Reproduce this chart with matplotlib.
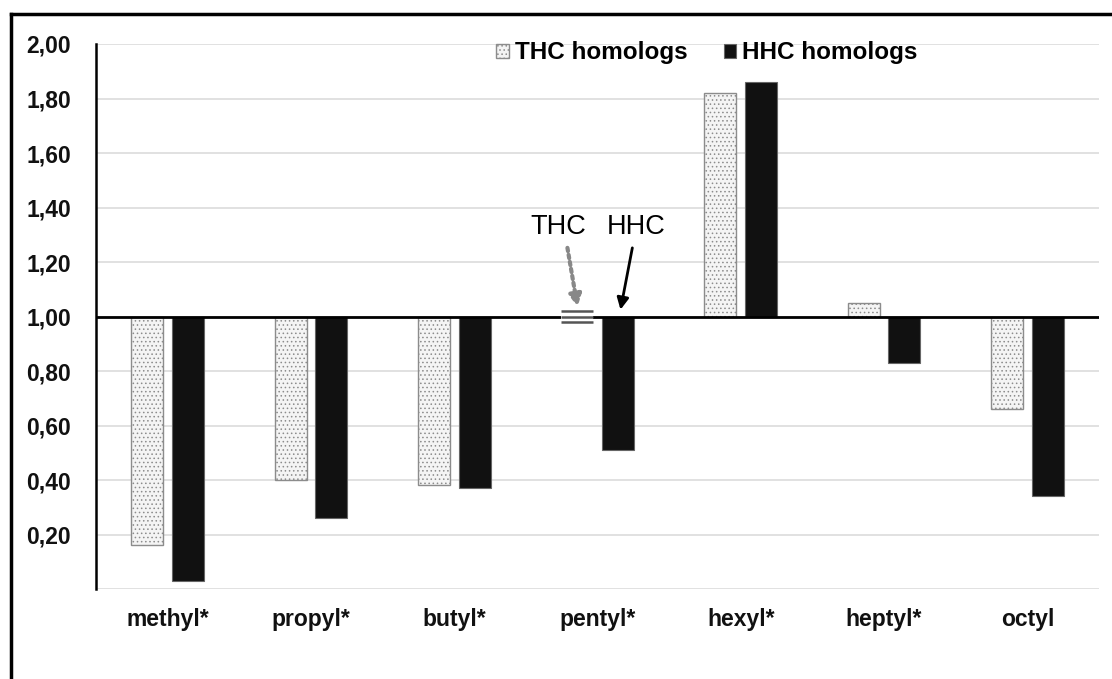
import numpy as np
import matplotlib
matplotlib.use("Agg")
import matplotlib.pyplot as plt
from matplotlib.patches import Patch, Rectangle
from matplotlib.lines import Line2D

# ── Data ───────────────────────────────────────────────────────────────────
homologs = ["methyl*", "propyl*", "butyl*", "pentyl*", "hexyl*", "heptyl*", "octyl"]
thc_vals = [0.16, 0.40, 0.38, 1.00, 1.82, 1.05, 0.66]
hhc_vals = [0.03, 0.26, 0.37, 0.51, 1.86, 0.83, 0.34]
yticks = [0.0, 0.2, 0.4, 0.6, 0.8, 1.0, 1.2, 1.4, 1.6, 1.8, 2.0]
ref = 1.0

plt.rcParams['font.family'] = ['Liberation Sans', 'DejaVu Sans']
plt.rcParams['hatch.color'] = '#a8a8a8'
plt.rcParams['hatch.linewidth'] = 0.6

fig = plt.figure(figsize=(11.12, 6.79), dpi=100)
ax = fig.add_axes([0.0863, 0.1325, 0.902, 0.8027])

x = np.arange(len(homologs))
w = 0.223
off = 0.142

thc_h = np.array(thc_vals) - ref
hhc_h = np.array(hhc_vals) - ref

thc_face, thc_edge = '#f4f4f4', '#8c8c8c'

# THC bars: dotted light fill; pentyl sits exactly on the baseline
ax.bar(x - off, thc_h, w, bottom=ref, color=thc_face, edgecolor=thc_edge,
       hatch='....', lw=1.0, zorder=3)
ax.bar(x + off, hhc_h, w, bottom=ref, color='#111111', edgecolor='#666666',
       lw=0.8, zorder=3)

ax.axhline(ref, color='black', lw=2.0, zorder=5)

# pentyl THC marker (value 1.00, drawn as three short strokes over the baseline)
i_p = homologs.index("pentyl*")
x0 = x[i_p] - off - w / 2
ax.add_patch(Rectangle((x0, thc_vals[i_p] - 0.03), w, 0.06,
                       facecolor='white', edgecolor='none', zorder=6))
ax.hlines([thc_vals[i_p] + d for d in (0.0195, 0.0, -0.0205)], x0, x0 + w,
          color='#555555', lw=1.8, zorder=7)

ax.set_xlim(-0.5, len(homologs) - 0.5)
ax.set_ylim(0, 2.0)
ax.set_yticks(yticks)
ax.set_yticklabels(['' if v == 0 else f"{v:.2f}".replace('.', ',') for v in yticks])
ax.set_xticks(x)
ax.set_xticklabels(homologs)
ax.tick_params(axis='both', length=0, labelsize=16.5, colors='#111111')
ax.tick_params(axis='y', pad=18)
ax.tick_params(axis='x', pad=14)
for lab in ax.get_xticklabels() + ax.get_yticklabels():
    lab.set_fontweight('bold')

ax.grid(axis='y', color='#dcdcdc', lw=1.2, zorder=0)
ax.set_axisbelow(True)
for s in ('top', 'right', 'bottom'):
    ax.spines[s].set_visible(False)
ax.spines['left'].set_color('black')
ax.spines['left'].set_linewidth(1.8)

# annotations for the pentyl pair
ax.text(2.724, 1.328, "THC", ha='center', va='center', fontsize=19.5)
ax.text(3.268, 1.328, "HHC", ha='center', va='center', fontsize=19.5)
ax.annotate("", xy=(2.864, 1.025), xytext=(2.787, 1.262),
            arrowprops=dict(arrowstyle='-|>,head_length=0.7,head_width=0.35',
                            color='#888888', lw=3.0, linestyle=(0, (0.8, 0.9))))
ax.annotate("", xy=(3.157, 1.015), xytext=(3.247, 1.262),
            arrowprops=dict(arrowstyle='-|>,head_length=0.7,head_width=0.35',
                            color='black', lw=2.0))

handles = [Patch(facecolor=thc_face, edgecolor=thc_edge, hatch='....', lw=1.0),
           Patch(facecolor='#111111', edgecolor='#666666', lw=0.8)]
ax.legend(handles, ["THC homologs", "HHC homologs"], loc='center',
          bbox_to_anchor=(0.609, 0.9835), ncol=2, frameon=False,
          handlelength=0.5, handleheight=0.5, handletextpad=0.25,
          columnspacing=1.5, borderpad=0, prop={'size': 17.5, 'weight': 'bold'})

# outer frame (left and top edges)
fig.add_artist(Line2D([11 / 1112, 11 / 1112], [0, 1 - 14 / 679],
                      transform=fig.transFigure, color='black', lw=2.5))
fig.add_artist(Line2D([11 / 1112, 1], [1 - 14 / 679, 1 - 14 / 679],
                      transform=fig.transFigure, color='black', lw=2.5))

fig.savefig("out.png", dpi=100, facecolor='white')
